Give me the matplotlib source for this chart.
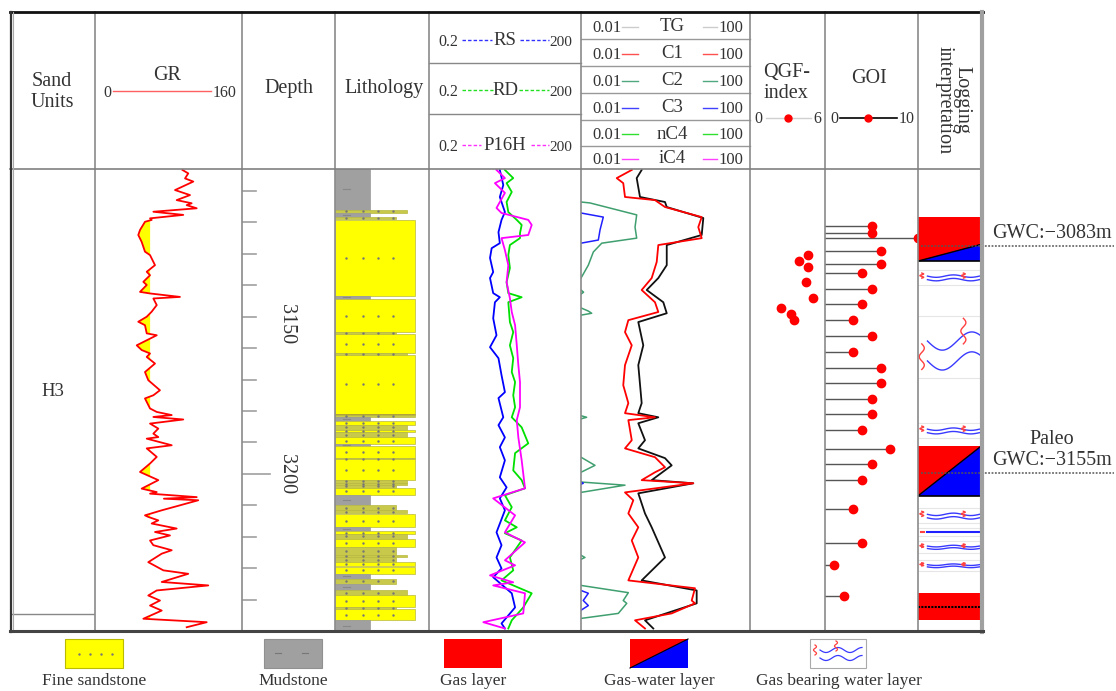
import matplotlib.pyplot as plt
import numpy as np
from matplotlib.patches import Rectangle, Polygon

plt.rcParams['font.family'] = ['Liberation Serif', 'DejaVu Serif']

# ---------------- data ----------------
d_top, d_base = 3103.0, 3250.0
depth_ticks = [3110, 3120, 3130, 3140, 3150, 3160, 3170, 3180, 3190, 3200, 3210, 3220, 3230, 3240]
depth_labels = [3150, 3200]

unit_names = ['H3']
unit_tops = [3103.0]
unit_bases = [3244.7]

gr_depth = [3103.3, 3104.4, 3106.0, 3107.0, 3109.7, 3111.3, 3112.9, 3113.9, 3114.5, 3115.5,
            3116.6, 3117.6, 3118.7, 3119.2, 3119.8, 3122.4, 3124.0, 3126.2, 3129.3, 3130.4,
            3133.6, 3135.7, 3136.8, 3138.9, 3139.9, 3142.1, 3142.6, 3143.7, 3144.2, 3146.3,
            3148.4, 3150.0, 3151.6, 3152.7, 3155.3, 3155.9, 3159.1, 3160.6, 3161.7, 3162.8,
            3164.9, 3167.6, 3170.2, 3173.4, 3175.0, 3176.0, 3179.2, 3180.3, 3181.3, 3181.9,
            3182.7, 3184.0, 3185.6, 3187.2, 3188.3, 3188.8, 3190.9, 3191.9, 3194.6, 3196.7,
            3199.4, 3202.0, 3204.7, 3205.8, 3206.3, 3207.4, 3207.9, 3208.4, 3210.3, 3211.6,
            3213.2, 3213.7, 3214.8, 3215.8, 3217.4, 3218.5, 3219.6, 3221.2, 3222.7, 3224.3,
            3225.4, 3228.1, 3230.7, 3231.8, 3234.4, 3235.5, 3237.1, 3238.7, 3240.3, 3241.9,
            3243.5, 3246.1, 3247.2, 3248.8]
gr_val = [95.2, 101.5, 98.0, 107.0, 87.1, 103.4, 88.9, 105.2, 99.8, 110.7,
          63.5, 96.1, 59.9, 61.7, 54.4, 49.0, 47.1, 50.8, 54.4, 59.9,
          65.3, 56.3, 59.9, 52.6, 56.3, 49.0, 59.9, 92.5, 63.5, 67.2,
          61.7, 56.3, 47.1, 54.4, 56.3, 67.2, 45.4, 50.8, 59.9, 56.3,
          65.3, 54.4, 58.0, 70.7, 63.5, 54.4, 59.9, 67.2, 83.5, 63.5,
          96.1, 59.9, 68.9, 63.5, 68.9, 56.3, 83.5, 56.3, 67.2, 59.9,
          49.0, 68.9, 50.8, 67.2, 59.9, 110.7, 75.0, 112.4, 88.9, 72.6,
          54.4, 58.0, 68.9, 61.7, 88.9, 65.3, 81.6, 59.9, 63.5, 83.5,
          72.6, 58.0, 74.4, 101.5, 72.6, 123.3, 67.2, 58.0, 70.7, 59.9,
          72.6, 52.6, 121.6, 99.8]
gr_cut = 60.0

lith_top = [3103.0, 3116.0, 3117.0, 3118.3, 3119.2, 3143.4, 3144.4, 3155.0, 3155.6, 3161.6,
            3162.2, 3180.8, 3181.3, 3182.0, 3183.2, 3184.5, 3185.9, 3186.8, 3188.3, 3190.6,
            3191.2, 3195.0, 3195.3, 3202.0, 3202.8, 3203.6, 3204.4, 3206.8, 3210.0, 3211.6,
            3212.8, 3216.9, 3218.3, 3219.2, 3220.8, 3223.3, 3225.9, 3226.5, 3228.1, 3229.6,
            3231.8, 3233.4, 3235.1, 3237.1, 3238.7, 3242.4, 3243.1, 3246.6]
lith_base = [3116.0, 3117.0, 3118.3, 3118.9, 3143.4, 3144.3, 3155.0, 3155.6, 3161.6, 3162.2,
             3180.8, 3181.3, 3182.0, 3183.2, 3184.5, 3185.9, 3186.8, 3188.3, 3190.6, 3191.2,
             3195.0, 3195.3, 3202.0, 3202.8, 3203.6, 3204.4, 3206.8, 3210.0, 3211.6, 3212.6,
             3216.9, 3218.3, 3219.2, 3220.6, 3223.3, 3225.9, 3226.5, 3228.1, 3229.3, 3231.8,
             3233.4, 3234.9, 3236.9, 3238.7, 3242.4, 3243.1, 3246.6, 3250.0]
lith_code = ['M', 'B', 'M', 'A', 'S', 'M', 'S', 'A', 'S', 'B',
             'S', 'C', 'F', 'M', 'S', 'B', 'S', 'B', 'S', 'M',
             'S', 'F', 'S', 'B', 'B', 'A', 'S', 'M', 'A', 'B',
             'S', 'M', 'S', 'B', 'S', 'A', 'B', 'A', 'S', 'S',
             'M', 'A', 'M', 'B', 'S', 'A', 'S', 'M']

rs_depth = [3103.3, 3108.1, 3111.9, 3116.7, 3119.2, 3123.1, 3126.6, 3128.2, 3131.3, 3135.8,
            3137.7, 3142.5, 3143.8, 3145.4, 3150.5, 3155.9, 3159.7, 3163.2, 3168.6, 3174.0,
            3175.9, 3182.0, 3184.5, 3188.4, 3191.5, 3195.7, 3201.1, 3204.3, 3207.8, 3211.6,
            3218.6, 3222.7, 3226.6, 3230.1, 3232.9, 3238.0, 3242.5, 3245.7, 3247.6, 3249.2]
rs_val = [5.0, 5.85, 5.0, 6.3, 5.4, 4.7, 5.0, 3.45, 3.2, 3.7,
          3.2, 3.7, 5.0, 4.0, 3.7, 4.3, 3.2, 4.7, 5.4, 6.3,
          4.7, 5.85, 4.7, 6.3, 5.0, 6.3, 5.0, 6.8, 5.0, 6.3,
          4.3, 5.4, 4.3, 5.4, 3.7, 8.6, 10.0, 6.8, 5.4, 6.3]

rd_depth = [3103.3, 3105.9, 3107.5, 3110.3, 3113.5, 3116.7, 3119.2, 3120.8, 3123.4, 3125.0,
            3127.2, 3130.4, 3134.5, 3139.0, 3142.5, 3143.8, 3145.4, 3151.7, 3154.9, 3159.1,
            3163.2, 3167.6, 3170.8, 3175.0, 3178.8, 3182.0, 3185.2, 3190.3, 3193.4, 3198.9,
            3202.0, 3204.6, 3206.8, 3210.6, 3214.8, 3217.0, 3218.9, 3221.2, 3226.6, 3230.7,
            3233.9, 3238.0, 3242.5, 3246.6, 3249.2]
rd_val = [6.3, 9.2, 6.8, 8.6, 6.8, 7.35, 10.8, 13.5, 12.5, 12.5,
          7.9, 7.35, 7.9, 6.8, 7.35, 13.5, 7.35, 7.9, 9.2, 7.9,
          9.2, 8.6, 10.0, 9.2, 10.0, 8.6, 13.5, 18.2, 10.0, 9.2,
          13.5, 15.7, 6.3, 8.6, 6.3, 10.8, 6.3, 13.5, 7.9, 9.2,
          5.4, 21.3, 14.5, 8.6, 7.35]

p16_depth = [3103.3, 3105.9, 3107.5, 3110.6, 3115.4, 3117.0, 3119.2, 3120.8, 3124.0, 3125.0,
             3128.8, 3133.6, 3139.0, 3144.1, 3148.5, 3152.7, 3159.1, 3165.4, 3170.8, 3175.9,
             3178.8, 3182.9, 3188.4, 3195.7, 3204.6, 3207.8, 3213.2, 3218.6, 3221.8, 3227.5,
             3229.1, 3232.3, 3234.5, 3235.5, 3238.0, 3244.4, 3247.2, 3249.2]
p16_val = [4.3, 6.3, 4.0, 6.3, 4.3, 5.4, 18.2, 21.3, 18.2, 5.4,
           6.3, 7.35, 6.8, 7.9, 8.6, 10.0, 10.8, 11.6, 12.5, 12.5,
           12.5, 10.8, 11.6, 13.5, 15.7, 3.7, 10.0, 6.3, 15.7, 6.3,
           10.0, 3.2, 9.2, 3.7, 15.7, 14.5, 2.36, 6.3]

c1_depth = [3103.3, 3105.9, 3107.5, 3111.9, 3112.9, 3115.1, 3118.3, 3121.5, 3125.0, 3127.2,
            3132.6, 3137.7, 3141.5, 3145.4, 3148.5, 3151.1, 3154.9, 3159.1, 3165.4, 3171.8,
            3177.5, 3180.7, 3182.0, 3182.9, 3189.3, 3191.9, 3194.7, 3197.9, 3199.5, 3202.0,
            3203.0, 3205.9, 3208.4, 3212.6, 3217.0, 3221.2, 3226.6, 3233.9, 3236.4, 3240.3,
            3241.2, 3244.4, 3246.6, 3249.2]
c1_val = [0.159, 0.070, 0.100, 0.110, 0.564, 0.973, 7.19, 5.97, 7.19, 0.676,
          0.619, 0.471, 0.273, 0.564, 0.676, 0.132, 0.110, 0.159, 0.110, 0.100,
          0.132, 0.110, 0.564, 0.132, 0.159, 0.110, 0.564, 0.973, 0.564, 0.273,
          4.55, 0.110, 0.173, 0.132, 0.227, 0.159, 0.227, 0.132, 4.99, 4.17,
          4.99, 1.40, 0.190, 0.327]

tg_depth = [3103.3, 3105.9, 3111.9, 3113.5, 3115.1, 3118.6, 3124.0, 3127.2, 3133.6, 3137.7,
            3141.5, 3145.4, 3148.9, 3151.7, 3159.1, 3165.4, 3177.5, 3180.7, 3182.0, 3183.9,
            3189.3, 3191.9, 3195.0, 3197.3, 3202.0, 3203.0, 3206.2, 3212.6, 3217.0, 3226.6,
            3233.9, 3237.1, 3241.2, 3246.6, 3249.2]
tg_val = [0.273, 0.208, 0.249, 0.973, 1.07, 7.85, 7.19, 1.07, 1.07, 0.676,
          0.359, 0.888, 1.07, 0.227, 0.298, 0.227, 0.273, 0.227, 0.676, 0.227,
          0.327, 0.227, 0.973, 1.40, 0.471, 4.55, 0.227, 0.327, 0.471, 0.973,
          0.273, 5.47, 5.47, 0.327, 0.514]

# C2 / C3 only where above the 0.01 scale limit (nan splits the pieces)
c2_depth = [3113.5, 3113.8, 3117.6, 3121.5, 3125.0, 3126.6, 3129.4, 3133.6, 3137.7, np.nan,
            3141.5, 3142.2, 3142.8, np.nan, 3147.2, 3148.2, 3148.9, 3149.5, np.nan,
            3181.5, 3182.0, 3182.5, np.nan, 3194.7, 3197.3, 3199.5, np.nan,
            3202.6, 3203.6, 3205.9, np.nan, 3225.9, 3226.6, 3227.2, np.nan,
            3235.5, 3237.8, 3240.3, 3241.2, 3244.4, 3246.0]
c2_val = [0.01, 0.0163, 0.208, 0.19, 0.208, 0.031, 0.0196, 0.0149, 0.01, np.nan,
          0.01, 0.0115, 0.01, np.nan, 0.01, 0.0149, 0.0179, 0.01, np.nan,
          0.01, 0.0136, 0.01, np.nan, 0.01, 0.0214, 0.01, np.nan,
          0.01, 0.110, 0.01, np.nan, 0.01, 0.0124, 0.01, np.nan,
          0.01, 0.132, 0.100, 0.121, 0.0764, 0.01]
c3_depth = [3117.0, 3118.3, 3122.4, 3125.6, 3126.6, np.nan,
            3202.6, 3203.0, 3203.3, np.nan,
            3237.1, 3238.0, 3240.3, 3241.9, 3243.4]
c3_val = [0.01, 0.0337, 0.0282, 0.0257, 0.01, np.nan,
          0.01, 0.0113, 0.01, np.nan,
          0.01, 0.0149, 0.0113, 0.0149, 0.01]

qgf_depth = [3130.4, 3132.2, 3134.1, 3139.1, 3144.1, 3147.2, 3149.1, 3151.1]
qgf_val = [4.65, 3.9, 4.65, 4.45, 5.0, 2.45, 3.3, 3.5]

goi_depth = [3121.2, 3123.3, 3125.1, 3129.1, 3133.2, 3136.2, 3141.2, 3146.1, 3151.1, 3156.2,
             3161.2, 3166.2, 3171.2, 3176.2, 3181.1, 3186.1, 3192.2, 3197.0, 3202.0, 3211.1,
             3222.1, 3229.0, 3239.0]
goi_val = [5, 5, 10, 6, 6, 4, 5, 4, 3, 5, 3, 6, 6, 5, 5, 4, 7, 5, 4, 3, 4, 1, 2]

# logging interpretation
int_top = [3118.4, 3135.8, 3150.5, 3184.5, 3191.2, 3211.6, 3218.1, 3222.1, 3228.1, 3237.9]
int_base = [3132.3, 3139.0, 3168.6, 3187.7, 3207.0, 3214.8, 3218.9, 3224.3, 3230.1, 3246.6]
int_kind = ['gw', 'gbw', 'gbw_big', 'gbw', 'gw', 'gbw', 'gbw_line', 'gbw', 'gbw', 'gas']
gw_diag = {0: 3127.0, 4: 3191.2}      # depth where the water wedge meets the right edge
contact_depth = [3127.4, 3199.7]
contact_text = ['GWC:\u22123083m', 'Paleo\nGWC:\u22123155m']
gas_mark = 3242.4

legend_names = ['Fine sandstone', 'Mudstone', 'Gas layer', 'Gas-water layer', 'Gas bearing water layer']

# ---------------- figure ----------------
W, H = 1116, 691
fig = plt.figure(figsize=(W / 100, H / 100), dpi=100)
bg = fig.add_axes([0, 0, 1, 1])
bg.set_xlim(0, W)
bg.set_ylim(H, 0)
bg.axis('off')

Y0, Y1 = 169, 631


def track(x0, x1, xlim, log=False):
    ax = fig.add_axes([x0 / W, 1 - Y1 / H, (x1 - x0) / W, (Y1 - Y0) / H])
    ax.patch.set_alpha(0)
    if log:
        ax.set_xscale('log')
    ax.set_xlim(*xlim)
    ax.set_ylim(d_base, d_top)
    ax.axis('off')
    return ax


# ---- header ----
hs = 14.5
tc = '#333'
bg.text(52, 81, 'Sand', ha='center', va='center', fontsize=hs, color=tc)
bg.text(52, 102, 'Units', ha='center', va='center', fontsize=hs, color=tc)
bg.text(167, 75, 'GR', ha='center', va='center', fontsize=hs, color=tc)
bg.plot([113, 211], [91, 91], color='#ff6060', lw=1)
bg.text(107, 93, '0', ha='center', va='center', fontsize=11.5, color=tc)
bg.text(225, 93, '160', ha='center', va='center', fontsize=11.5, color=tc)
bg.text(289, 88, 'Depth', ha='center', va='center', fontsize=hs, color=tc)
bg.text(384, 88, 'Lithology', ha='center', va='center', fontsize=hs, color=tc)

res_hdr = [('RS', '#3030ff', 40, (462, 492), (520, 549)),
           ('RD', '#20e020', 90, (462, 493), (519, 549)),
           ('P16H', '#ff30ff', 145, (462, 481), (531, 549))]
for name, col, y, l1, l2 in res_hdr:
    bg.text(448, y + 2, '0.2', ha='center', va='center', fontsize=11.5, color=tc)
    bg.text(561, y + 2, '200', ha='center', va='center', fontsize=11, color=tc)
    bg.text(505, y, name, ha='center', va='center', fontsize=13.5, color=tc)
    bg.plot(l1, [y, y], color=col, lw=1, ls=(0, (2.5, 1.5)))
    bg.plot(l2, [y, y], color=col, lw=1, ls=(0, (2.5, 1.5)))

gas_hdr = [('TG', '#cccccc'), ('C1', '#ff5050'), ('C2', '#50a880'),
           ('C3', '#4040ff'), ('nC4', '#30e030'), ('iC4', '#ff40ff')]
gas_rows = [12, 39.3, 66, 93.3, 120, 146, 169]
for i, (name, col) in enumerate(gas_hdr):
    yc = (gas_rows[i] + gas_rows[i + 1]) / 2 + 2
    bg.text(607, yc, '0.01', ha='center', va='center', fontsize=12, color=tc)
    bg.text(672, yc - 1, name, ha='center', va='center', fontsize=13.5, color=tc)
    bg.text(731, yc, '100', ha='center', va='center', fontsize=12, color=tc)
    bg.plot([622, 638], [yc - 1, yc - 1], color=col, lw=1)
    bg.plot([703, 717], [yc - 1, yc - 1], color=col, lw=1)
for y in gas_rows[1:-1]:
    bg.plot([581, 750], [y, y], color='#999', lw=1)
for y in [63, 114]:
    bg.plot([429, 581], [y, y], color='#888', lw=1)

bg.text(787, 72, 'QGF-', ha='center', va='center', fontsize=hs, color=tc)
bg.text(786, 93, 'index', ha='center', va='center', fontsize=hs, color=tc)
bg.plot([766, 811], [118, 118], color='#d0d0d0', lw=1)
bg.plot([788], [118], 'o', color='red', ms=5)
bg.text(758, 119, '0', ha='center', va='center', fontsize=11.5, color=tc)
bg.text(817, 119, '6', ha='center', va='center', fontsize=11.5, color=tc)

bg.text(869, 78, 'GOI', ha='center', va='center', fontsize=hs, color=tc)
bg.plot([840, 897], [118, 118], color='black', lw=1.2)
bg.plot([868], [118], 'o', color='red', ms=5)
bg.text(834, 119, '0', ha='center', va='center', fontsize=11.5, color=tc)
bg.text(907, 119, '10', ha='center', va='center', fontsize=11.5, color=tc)

bg.text(953, 100, 'Logging\ninterpretation', ha='center', va='center', fontsize=hs, color=tc,
        rotation=-90, multialignment='center', linespacing=0.95)

# ---- sand units ----
ua = track(10, 95, (0, 1))
for name, t, b in zip(unit_names, unit_tops, unit_bases):
    ua.text(0.5, (t + b) / 2, name, ha='center', va='center', fontsize=13.5, color=tc)
    ua.plot([0, 1], [b, b], color='#888', lw=1)

# ---- GR ----
ga = track(95, 242, (0, 160))
gd = np.array(gr_depth)
gv = np.array(gr_val)
ga.fill_betweenx(gd, gv, gr_cut, where=gv < gr_cut, interpolate=True, color='#ffff00', lw=0)
ga.plot(gv, gd, color='red', lw=1.3)

# ---- depth ----
da = track(242, 335, (0, 1))
for d in depth_ticks:
    ln = 0.3 if d == 3200 else 0.15
    da.plot([0, ln], [d, d], color='#a0a0a0', lw=1.2)
for d in depth_labels:
    da.annotate(str(d), xy=(0.48, d), xytext=(0, -5 if d == 3150 else 0), textcoords='offset points',
                ha='center', va='center', rotation=-90, fontsize=14.5, color=tc)

# ---- lithology ----
la = track(335, 429, (0, 1))
lith_style = {'S': ('#ffff00', 0.85), 'M': ('#a0a0a0', 0.37), 'A': ('#c8c84a', 0.65),
              'B': ('#c8c84a', 0.77), 'F': ('#c8c84a', 0.85), 'C': ('#7a1a1a', 0.85)}
for t, b, c in zip(lith_top, lith_base, lith_code):
    col, w = lith_style[c]
    la.add_patch(Rectangle((0, t), w, b - t, facecolor=col, edgecolor='#b8b840' if c != 'M' else '#999',
                           lw=0.5))
    m = (t + b) / 2
    if c == 'M':
        la.plot([0.09, 0.16], [m, m], color='#888', lw=0.8)
    elif c != 'C':
        la.plot([0.12, 0.30, 0.46, 0.62], [m] * 4, ls='none', marker='.', ms=1.5, color='#777')

# ---- resistivity ----
ra = track(429, 581, (0.2, 200), log=True)
ra.plot(rs_val, rs_depth, color='#0000ff', lw=1.3)
ra.plot(rd_val, rd_depth, color='#00e000', lw=1.3)
ra.plot(p16_val, p16_depth, color='#ff00ff', lw=1.3)

# ---- gas ----
xa = track(581, 750, (0.01, 100), log=True)
xa.plot(c2_val, c2_depth, color='#3f9f6f', lw=1.1)
xa.plot(c3_val, c3_depth, color='#2020ff', lw=1.1)
xa.plot(tg_val, tg_depth, color='#111111', lw=1.3)
xa.plot(c1_val, c1_depth, color='#ff0000', lw=1.3)

# ---- QGF ----
qa = track(750, 825, (0, 6))
qa.plot(qgf_val, qgf_depth, 'o', color='red', ms=6)

# ---- GOI ----
oa = track(825, 918, (0, 10))
for d, v in zip(goi_depth, goi_val):
    oa.plot([0, v], [d, d], color='#555', lw=1)
oa.plot(goi_val, goi_depth, 'o', color='red', ms=6, clip_on=False)


# ---- interpretation ----
ia = track(918, 981, (0, 1))


def gbw_symbol(ax, t, b, x0=0.15, amp=0.12, per=0.55, big=False):
    h = b - t
    xs = np.linspace(x0, 1, 80)
    for f in (0.4, 0.75):
        ax.plot(xs, t + f * h + amp * h * np.sin(2 * np.pi * (xs - x0) / per),
                color='#3a3aff', lw=1)
    ss = np.linspace(0, 1, 40)
    for xc, f0 in ((0.06, 0.15), (0.72, 0.0)):
        if big:
            yy = t + h * (f0 + 0.45 * ss) + (0.3 * h if xc < 0.5 else 0)
            ax.plot(xc + 0.04 * np.sin(2 * np.pi * ss * 1.5), yy, color='#ff4040', lw=1)
        else:
            ax.plot(xc + 0.03 * np.sin(2 * np.pi * ss * 1.5), t + h * (0.1 + 0.5 * ss),
                    color='#ff4040', lw=1)


for i, (t, b, k) in enumerate(zip(int_top, int_base, int_kind)):
    if k == 'gw':
        ia.add_patch(Rectangle((0, t), 1, b - t, facecolor='#ff0000', lw=0))
        dr = gw_diag[i]
        ia.add_patch(Polygon([(0, b), (1, b), (1, dr)], closed=True, facecolor='#0000ff', lw=0))
        ia.plot([0, 1], [b, dr], color='black', lw=1)
        ia.plot([0, 1], [b, b], color='black', lw=1.2)
    elif k == 'gas':
        ia.add_patch(Rectangle((0, t), 1, b - t, facecolor='#ff0000', lw=0))
    elif k == 'gbw_big':
        gbw_symbol(ia, t, b, amp=0.16, per=0.94, big=True)
    elif k == 'gbw_line':
        ia.plot([0.15, 1], [(t + b) / 2] * 2, color='#2020ff', lw=1.5)
        ia.plot([0.04, 0.1], [(t + b) / 2] * 2, color='#ff4040', lw=1.5)
    else:
        gbw_symbol(ia, t, b)
    if k.startswith('gbw'):
        for y in (t - 0.8, b + 0.8):
            ia.plot([0, 1], [y, y], color='#e6e6e6', lw=0.8)
ia.plot([0, 1], [gas_mark, gas_mark], color='black', lw=1.5, ls=(0, (1, 0.6)))

for d, txt in zip(contact_depth, contact_text):
    ia.plot([0.05, 3.11], [d, d], color='#555', lw=1.1, ls=(0, (1.2, 1.0)), clip_on=False)
    ia.annotate(txt, xy=(2.12, d), xytext=(0, 2), textcoords='offset points', ha='center',
                va='bottom', fontsize=14.5, color=tc, annotation_clip=False, linespacing=1.15)

# ---- frame ----
fr = fig.add_axes([0, 0, 1, 1])
fr.set_xlim(0, W)
fr.set_ylim(H, 0)
fr.axis('off')
fr.patch.set_alpha(0)
for x in [95, 242, 335, 429, 581, 750, 825, 918]:
    fr.plot([x, x], [12, 631], color='#8a8a8a', lw=1.2)
fr.plot([10, 982], [169, 169], color='#808080', lw=1.2)
fr.plot([10, 983], [12, 12], color='#111', lw=2)
fr.plot([10.5, 10.5], [12, 632], color='#333', lw=1.6)
fr.plot([12.5, 12.5], [12, 632], color='#aaa', lw=0.8)
fr.plot([982, 982], [12, 632], color='#a0a0a0', lw=3)
fr.plot([10, 983], [631, 631], color='#444', lw=2.2)

# ---- legend ----
lg_x = [65, 264, 444, 630, 810]
for x0, name in zip(lg_x, legend_names):
    bg.text(x0 + 29, 681, name, ha='center', va='center', fontsize=12.5, color=tc)
bg.add_patch(Rectangle((65, 639), 58, 29, facecolor='#ffff00', edgecolor='#bbbb00', lw=0.8))
bg.plot([79, 90, 101, 112], [654] * 4, ls='none', marker='.', ms=1.5, color='#777')
bg.add_patch(Rectangle((264, 639), 58, 29, facecolor='#a0a0a0', edgecolor='#909090', lw=0.8))
bg.plot([275, 281], [653, 653], color='#777', lw=0.8)
bg.plot([302, 308], [653, 653], color='#777', lw=0.8)
bg.add_patch(Rectangle((444, 639), 58, 29, facecolor='#ff0000', lw=0))
bg.add_patch(Rectangle((630, 639), 58, 29, facecolor='#ff0000', lw=0))
bg.add_patch(Polygon([(630, 668), (688, 668), (688, 639)], closed=True, facecolor='#0000ff', lw=0))
bg.plot([630, 688], [668, 639], color='black', lw=0.8)
bg.add_patch(Rectangle((810, 639), 56, 29, facecolor='white', edgecolor='#aaa', lw=0.8))
xs = np.linspace(820, 862, 60)
for yc in (650, 658):
    bg.plot(xs, yc + 2.5 * np.sin(2 * np.pi * (xs - 820) / 24), color='#3a3aff', lw=0.9)
ss = np.linspace(0, 1, 30)
for xc, y0 in ((815, 645), (836, 641)):
    bg.plot(xc + 1.5 * np.sin(2 * np.pi * ss * 1.5), y0 + 10 * ss, color='#ff4040', lw=0.9)

fig.savefig('out.png', dpi=100)
